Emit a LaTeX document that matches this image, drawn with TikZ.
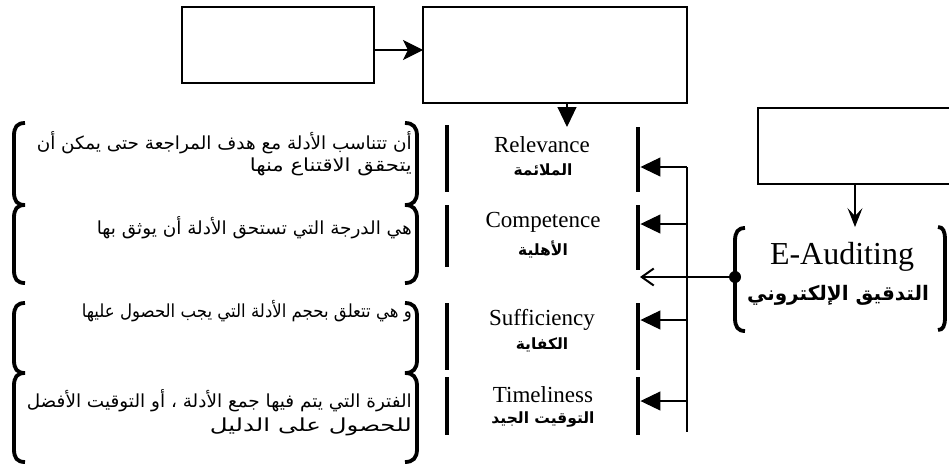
\documentclass[tikz,border=0pt]{standalone}
\usepackage{fontspec}
\setmainfont{Liberation Serif}
\newfontfamily\arabicfont[Script=Arabic]{DejaVu Sans}
\TeXXeTstate=1
\usetikzlibrary{arrows.meta}
\newcommand\fitw[2]{\resizebox{#1}{\height}{#2}}
\tikzset{
  box/.style={draw, line width=1.3pt, inner sep=0pt},
  thin/.style={line width=1.1pt},
  bar/.style={fill=black, inner sep=0pt, minimum width=4.5pt},
  brk/.style={line width=3.8pt},
  arrT/.style={thin, -{Triangle[length=20pt,width=19pt]}},
  arrS/.style={thin, -{Stealth[length=20pt,width=20pt,inset=5pt]}},
  arrV/.style={thin, -{Stealth[length=19pt,width=15pt,inset=8pt]}},
  arrB/.style={thin, -{Straight Barb[length=12pt,width=17pt,line width=2pt]}},
  desc/.style={anchor=east, inner sep=0pt, font=\arabicfont\fontsize{18}{20}\selectfont},
  lab/.style={inner sep=0pt, font=\fontsize{23}{26}\selectfont},
  alab/.style={inner sep=0pt, font=\arabicfont\bfseries\fontsize{15.5}{18}\selectfont},
}
\begin{document}
\begin{tikzpicture}[x=1pt,y=-1pt]
\useasboundingbox (0,0) rectangle (949,464);
\clip (0,0) rectangle (949,464);
% top boxes
\node[box, minimum width=192pt, minimum height=76pt] (b1) at (278,45) {};
\node[box, minimum width=264pt, minimum height=96pt] (b2) at (555,55) {};
\node[box, minimum width=202pt, minimum height=76pt] (b3) at (859,146) {};
\coordinate (a1) at (423,50);
\draw[arrS] (a1 -| b1.east) -- (a1);
\coordinate (t2) at (567,127);
\draw[arrT] (t2 |- b2.south) -- (t2);
\coordinate (t3) at (855,227);
\draw[arrV] (t3 |- b3.south) -- (t3);
% middle bars
\node[bar, minimum height=65pt] (m1) at (638,159.5) {};
\node[bar, minimum height=65pt] (m2) at (638,237.5) {};
\node[bar, minimum height=67pt] (m3) at (638,336.5) {};
\node[bar, minimum height=58pt] (m4) at (638,406) {};
% left bars
\node[bar, minimum height=67pt] (l1) at (447,158.5) {};
\node[bar, minimum height=62pt] (l2) at (447,236) {};
\node[bar, minimum height=67pt] (l3) at (447,336.5) {};
\node[bar, minimum height=58pt] (l4) at (447,406) {};
% vertical distribution line
\coordinate (v1) at (687,167);
\coordinate (v2) at (687,224);
\coordinate (v3) at (687,320);
\coordinate (v4) at (687,401);
\coordinate (vb) at (687,432);
\draw[thin] (v1) -- (vb);
\draw[arrT] (v1) -- (v1 -| m1.east);
\draw[arrT] (v2) -- (v2 -| m2.east);
\draw[arrT] (v3) -- (v3 -| m3.east);
\draw[arrT] (v4) -- (v4 -| m4.east);
% E-Auditing
\node[inner sep=0pt, font=\fontsize{32}{35}\selectfont] (ea) at (842,257) {E-Auditing};
\node[inner sep=0pt, font=\arabicfont\bfseries\fontsize{20}{24}\selectfont] (ear) at (838,295) {\beginR التدقيق الإلكتروني\endR};
\draw[brk] (745,228) .. controls (738,228) and (735,232) .. (735,241) -- (735,318) .. controls (735,327) and (738,331) .. (745,331);
\draw[brk] (938,227) .. controls (943,227) and (945,231) .. (945,240) -- (945,317) .. controls (945,326) and (943,330) .. (938,330);
\node[circle, fill=black, inner sep=0pt, minimum size=12pt] (dot) at (735,277) {};
\coordinate (tipE) at (640,277);
\draw[arrB] (dot) -- (tipE);
% labels
\node[lab] (r1) at (542,145) {Relevance};
\node[alab] (r2) at (543,170) {\beginR الملائمة\endR};
\node[lab] (c1) at (543,222) {Competence};
\node[alab] (c2) at (543,249) {\beginR الأهلية\endR};
\node[lab] (s1) at (542,320) {Sufficiency};
\node[alab] (s2) at (542,345) {\beginR الكفاية\endR};
\node[lab] (ti1) at (543,395) {Timeliness};
\node[alab] (ti2) at (543,419) {\beginR التوقيت الجيد\endR};
% descriptions
\node[desc] (d1a) at (412,143) {\fitw{375pt}{\beginR أن تتناسب الأدلة مع هدف المراجعة حتى يمكن أن\endR}};
\node[desc] (d1b) at (412,167) {\fitw{162pt}{\beginR يتحقق الاقتناع منها\endR}};
\node[desc] (d2) at (412,228) {\fitw{315pt}{\beginR هي الدرجة التي تستحق الأدلة أن يوثق بها\endR}};
\node[desc] (d3) at (412,311) {\fitw{330pt}{\beginR و هي تتعلق بحجم الأدلة التي يجب الحصول عليها\endR}};
\node[desc] (d4a) at (412,401) {\fitw{385pt}{\beginR الفترة التي يتم فيها جمع الأدلة ، أو التوقيت الأفضل\endR}};
\node[desc] (d4b) at (412,427) {\fitw{202pt}{\beginR للحصول على الدليل\endR}};
% left brackets
\foreach \ya/\yb in {123/205, 205/283, 303/373, 373/462}{
  \draw[brk] (25,\ya) .. controls (17,\ya) and (14,\ya+4) .. (14,\ya+13) -- (14,\yb-13) .. controls (14,\yb-4) and (17,\yb) .. (25,\yb);
  \draw[brk] (405,\ya) .. controls (413,\ya) and (417,\ya+4) .. (417,\ya+13) -- (417,\yb-13) .. controls (417,\yb-4) and (413,\yb) .. (405,\yb);
}
\end{tikzpicture}
\end{document}
